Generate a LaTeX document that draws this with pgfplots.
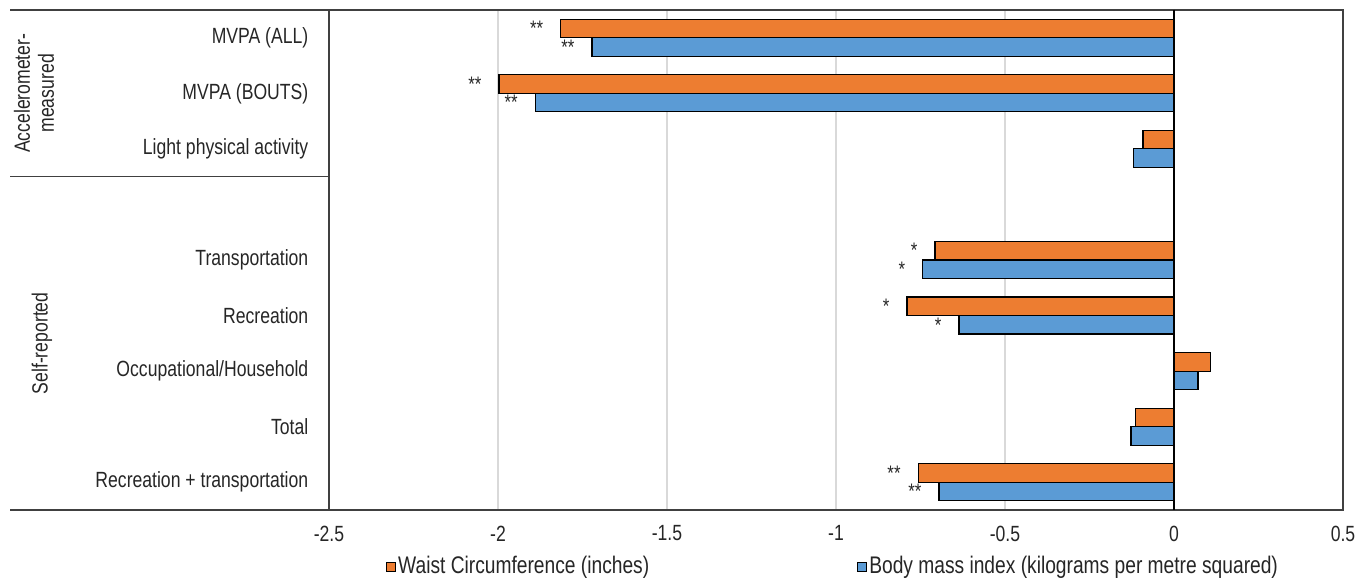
\documentclass[border=0pt]{standalone}
\usepackage{fontspec}
\setmainfont{Liberation Sans}[FakeStretch=0.8]
\usepackage{pgfplots}
\pgfplotsset{compat=1.18}
\usepackage{pgfplotstable}
\definecolor{wc}{HTML}{ED7D31}
\definecolor{bmi}{HTML}{5B9BD5}
\definecolor{axc}{HTML}{404040}
\definecolor{txt}{HTML}{262626}

\pgfplotstableread{
y val lab
0 -1.814 {**}
1 -1.997 {**}
2 -0.092 {}
4 -0.707 {*}
5 -0.790 {*}
6 0.109 {}
7 -0.115 {}
8 -0.757 {**}
}\waist

\pgfplotstableread{
y val lab
0 -1.722 {**}
1 -1.890 {**}
2 -0.121 {}
4 -0.743 {*}
5 -0.636 {*}
6 0.071 {}
7 -0.127 {}
8 -0.695 {**}
}\bmitab

\begin{document}
\fontsize{11}{13}\selectfont
\begin{tikzpicture}
\begin{axis}[
  scale only axis, width=507pt, height=250pt,
  xbar, bar width=9.25pt,
  y dir=reverse,
  xmin=-2.5, xmax=0.5, ymin=-0.5, ymax=8.5,
  xtick={-2.5,-2,-1.5,-1,-0.5,0,0.5},
  ytick={0,1,2,4,5,6,7,8},
  yticklabels={MVPA (ALL), MVPA (BOUTS), Light physical activity, Transportation, Recreation, Occupational/Household, Total, Recreation + transportation},
  major tick length=0,
  xmajorgrids, grid style={black!15, line width=0.6pt},
  extra x ticks={0}, extra x tick labels={},
  extra x tick style={grid style={black, line width=0.6pt}},
  axis line style={axc, line width=0.7pt},
  tick label style={font=\fontsize{11}{13}\selectfont, text=txt},
  /pgf/number format/assume math mode=true,
  xticklabel style={yshift=-4pt},
  yticklabel style={xshift=-6.5pt},
  clip=false,
  point meta=explicit symbolic,
  nodes near coords,
  every node near coord/.append style={anchor=east, inner sep=0pt, xshift=-8.5pt, text=txt, font=\fontsize{10.5}{11}\selectfont},
  legend columns=2,
  legend style={at={(0.056,0)}, anchor=north west, yshift=-21pt, draw=none,
    font=\fontsize{12}{14}\selectfont, text=txt, inner sep=0pt,
    /tikz/every even column/.append style={column sep=103pt},
    nodes={inner xsep=1pt}},
  legend cell align=left,
]
\addplot[fill=wc, draw=black, line width=0.6pt, bar shift=4.625pt,
  legend image code/.code={\draw[fill=wc, draw=black, line width=0.4pt] (0pt,-2.3pt) rectangle (4.6pt,2.3pt);}]
  table[x=val, y=y, meta=lab] {\waist};
\addplot[fill=bmi, draw=black, line width=0.6pt, bar shift=-4.625pt,
  legend image code/.code={\draw[fill=bmi, draw=black, line width=0.4pt] (0pt,-2.3pt) rectangle (4.6pt,2.3pt);}]
  table[x=val, y=y, meta=lab] {\bmitab};
\legend{Waist Circumference (inches), Body mass index (kilograms per metre squared)}
\draw[axc, line width=0.7pt] (axis cs:-2.5,-0.5) -- ([xshift=-159.5pt]axis cs:-2.5,-0.5);
\draw[axc, line width=0.7pt] (axis cs:-2.5,8.5) -- ([xshift=-159.5pt]axis cs:-2.5,8.5);
\draw[axc, line width=0.7pt] (axis cs:-2.5,2.5) -- ([xshift=-159.5pt]axis cs:-2.5,2.5);
\node[rotate=90, align=center, inner sep=0pt, text=txt, font=\fontsize{11}{12}\selectfont] at ([xshift=-147.5pt]axis cs:-2.5,1) {Accelerometer-\\measured};
\node[rotate=90, inner sep=0pt, text=txt, font=\fontsize{11}{12}\selectfont] at ([xshift=-143.5pt]axis cs:-2.5,5.5) {Self-reported};
\path ([xshift=-164.5pt,yshift=5pt]axis cs:-2.5,-0.5) rectangle ([xshift=11.5pt,yshift=-33pt]axis cs:0.5,8.5);
\end{axis}
\end{tikzpicture}
\end{document}
